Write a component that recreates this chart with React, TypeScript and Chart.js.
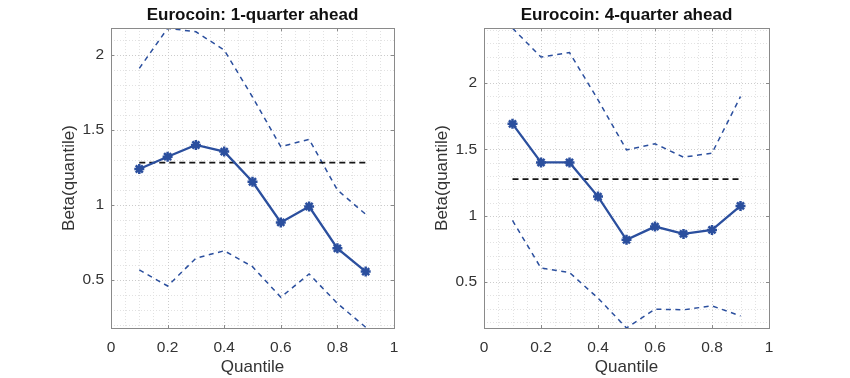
import React, { useEffect, useRef } from "react";
import { Chart, registerables } from "chart.js";
Chart.register(...registerables);

// ---------- data ----------
const quantiles = [0.1, 0.2, 0.3, 0.4, 0.5, 0.6, 0.7, 0.8, 0.9];

const title1 = "Eurocoin: 1-quarter ahead";
const beta1 = [1.24, 1.322, 1.4, 1.356, 1.155, 0.884, 0.99, 0.711, 0.556];
const upper1 = [1.911, 2.178, 2.155, 2.033, 1.72, 1.389, 1.438, 1.1, 0.938];
const lower1 = [0.567, 0.46, 0.645, 0.695, 0.589, 0.385, 0.54, 0.344, 0.185];
const ols1 = 1.282;
const yRange1 = [0.18, 2.18];

const title4 = "Eurocoin: 4-quarter ahead";
const beta4 = [1.693, 1.402, 1.402, 1.145, 0.819, 0.919, 0.864, 0.894, 1.075];
const upper4 = [2.414, 2.196, 2.23, 1.874, 1.497, 1.543, 1.442, 1.472, 1.899];
const lower4 = [0.965, 0.606, 0.573, 0.38, 0.155, 0.297, 0.292, 0.322, 0.246];
const ols4 = 1.277;
const yRange4 = [0.155, 2.415];

const xTicks = [0, 0.2, 0.4, 0.6, 0.8, 1];
const yTicks = [0.5, 1, 1.5, 2];
const xLabel = "Quantile";
const yLabel = "Beta(quantile)";

// ---------- styles ----------
const FONT = "'Liberation Sans', Arial, Helvetica, sans-serif";
const BLUE = "#2b4f9e";
const TEXT = "#333333";
const W = 425;
const H = 378;

const matlabPlugin = {
  id: "matlabBox",
  beforeDatasetsDraw(chart: any) {
    const { ctx, chartArea: a, scales } = chart;
    const xs = scales.x;
    const ys = scales.y;
    ctx.save();
    ctx.lineWidth = 1;
    ctx.setLineDash([1, 2]);
    // minor grid
    ctx.strokeStyle = "#e2e2e2";
    for (let i = 0; i <= 20; i++) {
      const px = Math.round(xs.getPixelForValue(i * 0.05)) + 0.5;
      ctx.beginPath();
      ctx.moveTo(px, a.top);
      ctx.lineTo(px, a.bottom);
      ctx.stroke();
    }
    for (let i = Math.ceil(ys.min * 10); i <= Math.floor(ys.max * 10); i++) {
      const py = Math.round(ys.getPixelForValue(i / 10)) + 0.5;
      ctx.beginPath();
      ctx.moveTo(a.left, py);
      ctx.lineTo(a.right, py);
      ctx.stroke();
    }
    // major grid
    ctx.strokeStyle = "#cccccc";
    xTicks.forEach((v) => {
      const px = Math.round(xs.getPixelForValue(v)) + 0.5;
      ctx.beginPath();
      ctx.moveTo(px, a.top);
      ctx.lineTo(px, a.bottom);
      ctx.stroke();
    });
    yTicks.forEach((v) => {
      const py = Math.round(ys.getPixelForValue(v)) + 0.5;
      ctx.beginPath();
      ctx.moveTo(a.left, py);
      ctx.lineTo(a.right, py);
      ctx.stroke();
    });
    ctx.restore();
  },
  afterDatasetsDraw(chart: any) {
    const { ctx, chartArea: a, scales } = chart;
    const xs = scales.x;
    const ys = scales.y;
    ctx.save();
    ctx.setLineDash([]);
    ctx.strokeStyle = "#8a8a8a";
    ctx.lineWidth = 1;
    ctx.strokeRect(Math.round(a.left) + 0.5, Math.round(a.top) + 0.5, Math.round(a.right - a.left), Math.round(a.bottom - a.top));
    const tl = 3;
    xTicks.forEach((v) => {
      const px = Math.round(xs.getPixelForValue(v)) + 0.5;
      ctx.beginPath();
      ctx.moveTo(px, a.bottom);
      ctx.lineTo(px, a.bottom - tl);
      ctx.moveTo(px, a.top);
      ctx.lineTo(px, a.top + tl);
      ctx.stroke();
    });
    yTicks.forEach((v) => {
      const py = Math.round(ys.getPixelForValue(v)) + 0.5;
      ctx.beginPath();
      ctx.moveTo(a.left, py);
      ctx.lineTo(a.left + tl, py);
      ctx.moveTo(a.right, py);
      ctx.lineTo(a.right - tl, py);
      ctx.stroke();
    });
    ctx.restore();
  },
  afterDraw(chart: any, _args: any, opts: any) {
    const { ctx, chartArea: a } = chart;
    const cx = (a.left + a.right) / 2;
    const cy = (a.top + a.bottom) / 2;
    ctx.save();
    ctx.textAlign = "center";
    ctx.textBaseline = "middle";
    ctx.fillStyle = "#111111";
    ctx.font = `bold 17px ${FONT}`;
    ctx.fillText(opts.title, cx, 15);
    ctx.fillStyle = TEXT;
    ctx.font = `17px ${FONT}`;
    ctx.fillText(xLabel, cx, 367);
    ctx.translate(a.left - 42, cy);
    ctx.rotate(-Math.PI / 2);
    ctx.fillText(yLabel, 0, 0);
    ctx.restore();
  },
};

type PanelProps = {
  title: string;
  beta: number[];
  upper: number[];
  lower: number[];
  ols: number;
  yRange: number[];
  plotLeft: number;
  plotRight: number;
  offset: number;
};

function Panel(p: PanelProps) {
  const ref = useRef<HTMLCanvasElement | null>(null);
  useEffect(() => {
    if (!ref.current) return;
    const pts = (arr: number[]) => quantiles.map((q, i) => ({ x: q, y: arr[i] }));
    const olsPts = [
      { x: quantiles[0], y: p.ols },
      { x: quantiles[quantiles.length - 1], y: p.ols },
    ];
    const chart = new Chart(ref.current, {
      type: "line",
      data: {
        datasets: [
          {
            data: pts(p.beta),
            borderColor: BLUE,
            backgroundColor: BLUE,
            borderWidth: 2.3,
            pointStyle: "star",
            pointRadius: 5,
            pointBorderWidth: 2.5,
            pointBorderColor: BLUE,
            tension: 0,
          },
          {
            data: olsPts,
            borderColor: "#151515",
            borderWidth: 1.8,
            borderDash: [6, 4],
            pointRadius: 0,
          },
          {
            data: pts(p.upper),
            borderColor: BLUE,
            borderWidth: 1.5,
            borderDash: [5, 4.5],
            pointRadius: 0,
          },
          {
            data: pts(p.lower),
            borderColor: BLUE,
            borderWidth: 1.5,
            borderDash: [5, 4.5],
            pointRadius: 0,
          },
        ],
      },
      options: {
        animation: false,
        responsive: false,
        devicePixelRatio: 1,
        layout: { padding: { left: 0, top: 28, right: W - p.plotRight, bottom: 0 } },
        plugins: {
          legend: { display: false },
          tooltip: { enabled: false },
          title: { display: false },
          matlabBox: { title: p.title },
        } as any,
        scales: {
          x: {
            type: "linear",
            min: 0,
            max: 1,
            grid: { display: false, drawTicks: false },
            border: { display: false },
            afterBuildTicks: (s: any) => {
              s.ticks = xTicks.map((v) => ({ value: v }));
            },
            afterFit: (s: any) => {
              s.height = H - 328;
            },
            ticks: {
              padding: 10,
              color: TEXT,
              font: { family: FONT, size: 15.5 },
              callback: (v: any) => String(Number(v)),
              maxRotation: 0,
              autoSkip: false,
            },
          },
          y: {
            type: "linear",
            min: p.yRange[0],
            max: p.yRange[1],
            grid: { display: false, drawTicks: false },
            border: { display: false },
            afterBuildTicks: (s: any) => {
              s.ticks = yTicks.map((v) => ({ value: v }));
            },
            afterFit: (s: any) => {
              s.width = p.plotLeft;
            },
            ticks: {
              padding: 7,
              color: TEXT,
              font: { family: FONT, size: 15.5 },
              callback: (v: any) => String(Number(v)),
              autoSkip: false,
            },
          },
        },
      },
      plugins: [matlabPlugin as any],
    });
    return () => chart.destroy();
  }, []);
  return (
    <canvas
      ref={ref}
      width={W}
      height={H}
      style={{ position: "absolute", left: p.offset, top: 0, width: W, height: H }}
    />
  );
}

export default function App() {
  return (
    <div style={{ position: "fixed", left: 0, top: 0, width: 850, height: 378, background: "#ffffff" }}>
      <Panel title={title1} beta={beta1} upper={upper1} lower={lower1} ols={ols1} yRange={yRange1} plotLeft={111} plotRight={394} offset={0} />
      <Panel title={title4} beta={beta4} upper={upper4} lower={lower4} ols={ols4} yRange={yRange4} plotLeft={59} plotRight={344} offset={425} />
    </div>
  );
}
